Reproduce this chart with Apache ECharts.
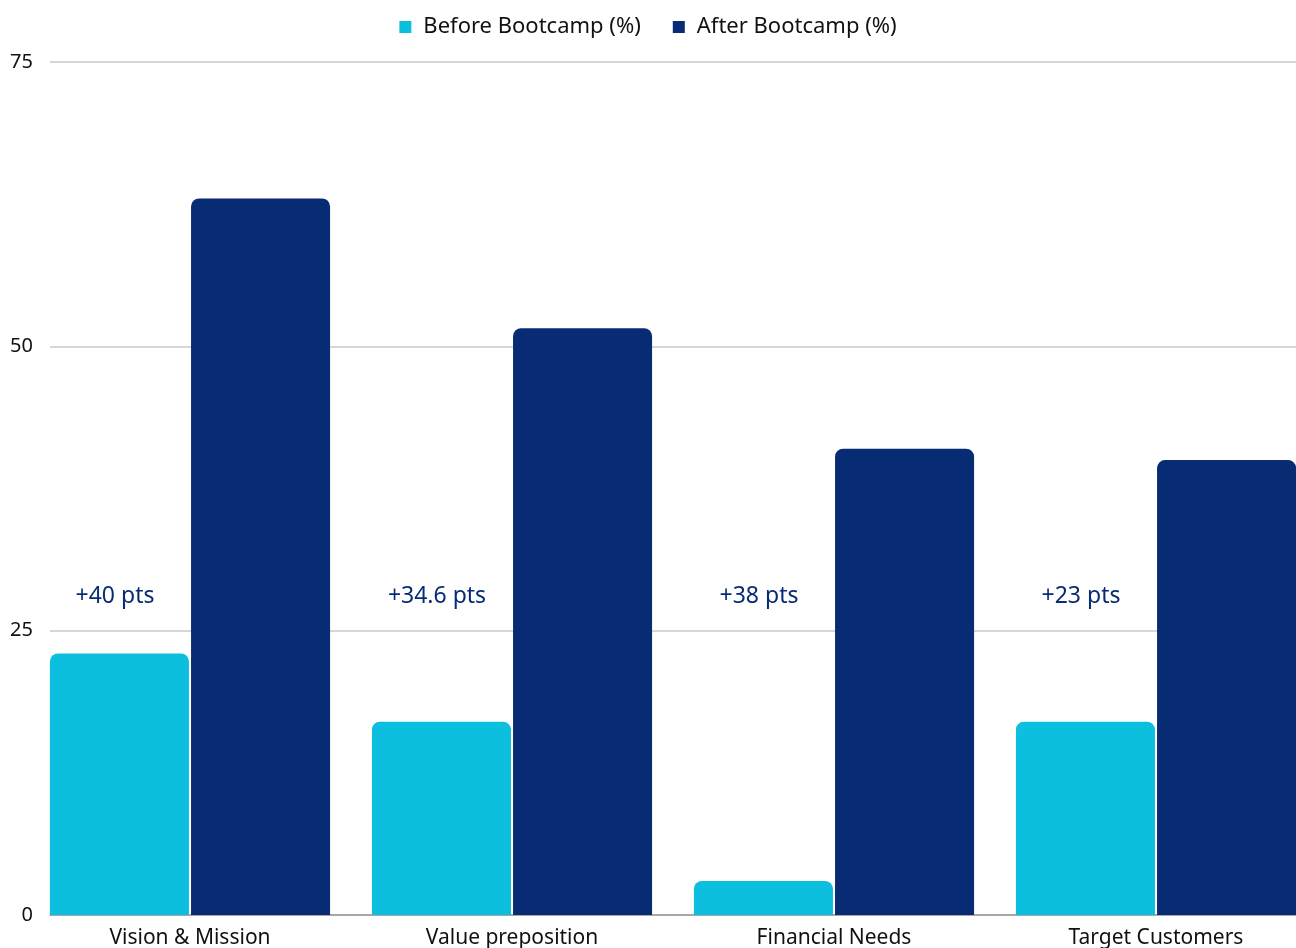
<!DOCTYPE html>
<html>
<head>
<meta charset="utf-8">
<script src="https://cdn.jsdelivr.net/npm/echarts@6/dist/echarts.min.js"></script>
<style>
  html, body { margin: 0; padding: 0; background: #fff; }
  #chart { width: 1296px; height: 948px; }
</style>
</head>
<body>
<div id="chart"></div>
<script>
const categories = ["Vision & Mission", "Value preposition", "Financial Needs", "Target Customers"];
const beforeValues = [23, 17, 3, 17];
const afterValues = [63, 51.6, 41, 40];
const gainLabels = ["+40 pts", "+34.6 pts", "+38 pts", "+23 pts"];
const gainLevel = 28;

const chart = echarts.init(document.getElementById("chart"));
const font = "Noto Sans";

const option = {
  animation: false,
  textStyle: { fontFamily: font },
  legend: {
    top: 11,
    left: "center",
    icon: "rect",
    itemWidth: 12,
    itemHeight: 12,
    itemGap: 32,
    textStyle: { fontSize: 22, color: "#111", fontFamily: font, padding: [0, 0, 0, 7] },
    data: ["Before Bootcamp (%)", "After Bootcamp (%)"],
  },
  grid: [
    { left: 50, right: 0, top: 62, bottom: 33 },
    // bars sit in a wider grid so the first group starts at the y axis
    { left: 29, width: 1288, top: 62, bottom: 33, outerBoundsMode: "none" },
  ],
  xAxis: [
    {
      type: "category",
      gridIndex: 0,
      data: categories,
      axisLine: { show: true, lineStyle: { color: "#999", width: 1.5 } },
      axisTick: { show: false },
      axisLabel: { show: false },
    },
    {
      type: "category",
      gridIndex: 1,
      data: categories,
      axisLine: { show: false },
      axisTick: { show: false },
      axisLabel: { fontSize: 21, color: "#111", margin: 13, fontFamily: font },
    },
  ],
  yAxis: [
    {
      type: "value",
      gridIndex: 0,
      min: 0,
      max: 75,
      interval: 25,
      axisLine: { show: false },
      axisTick: { show: false },
      axisLabel: { fontSize: 20, color: "#111", margin: 17, fontFamily: font },
      splitLine: { lineStyle: { color: "#c8c8c8", width: 1.5 } },
    },
    {
      type: "value",
      gridIndex: 1,
      min: 0,
      max: 75,
      interval: 25,
      show: false,
      splitLine: { show: false },
    },
  ],
  series: [
    {
      name: "Before Bootcamp (%)",
      type: "bar",
      xAxisIndex: 1,
      yAxisIndex: 1,
      data: beforeValues,
      barCategoryGap: "13%",
      barGap: "1.5%",
      itemStyle: { color: "#0CBFDF", borderRadius: [8, 8, 0, 0] },
    },
    {
      name: "After Bootcamp (%)",
      type: "bar",
      xAxisIndex: 1,
      yAxisIndex: 1,
      data: afterValues,
      barCategoryGap: "13%",
      barGap: "1.5%",
      itemStyle: { color: "#082C74", borderRadius: [8, 8, 0, 0] },
    },
    {
      type: "scatter",
      xAxisIndex: 1,
      yAxisIndex: 1,
      symbolSize: 0,
      silent: true,
      itemStyle: { opacity: 1 },
      data: gainLabels.map((t, i) => ({ value: [i, gainLevel], name: t })),
      label: {
        show: true,
        position: "inside",
        offset: [-75, 0],
        formatter: (p) => p.name,
        fontSize: 23,
        color: "#082C74",
        fontFamily: font,
      },
      z: 5,
    },
  ],
};

chart.setOption(option);
</script>
</body>
</html>
